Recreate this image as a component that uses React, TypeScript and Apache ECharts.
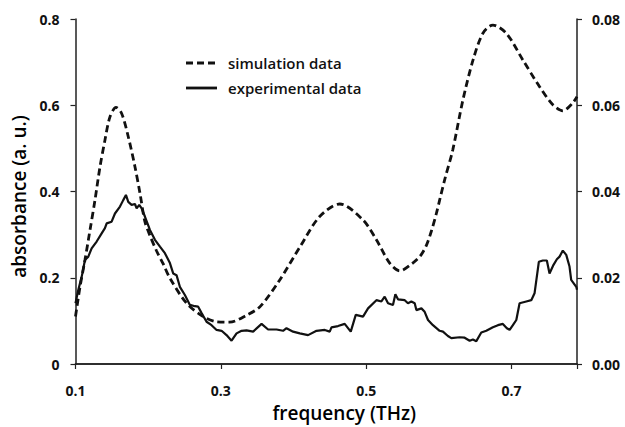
import React, { useEffect, useRef } from "react";
import * as echarts from "echarts";

const xTicks = ["0.1", "0.3", "0.5", "0.7"];
const leftTicks = ["0", "0.2", "0.4", "0.6", "0.8"];
const rightTicks = ["0.00", "0.02", "0.04", "0.06", "0.08"];
const legendNames = ["simulation data", "experimental data"];

const simX = [0.1, 0.1062, 0.113, 0.12, 0.1268, 0.1337, 0.1405, 0.1474, 0.1557, 0.1635, 0.1726, 0.1818, 0.1887, 0.1955, 0.2024, 0.2116, 0.2207, 0.2299, 0.2528, 0.2757, 0.294, 0.312, 0.3353, 0.354, 0.381, 0.409, 0.436, 0.4636, 0.4956, 0.514, 0.5323, 0.546, 0.564, 0.575, 0.5828, 0.59, 0.5965, 0.601, 0.6079, 0.619, 0.633, 0.647, 0.6606, 0.6743, 0.6927, 0.7155, 0.7385, 0.7568, 0.7705, 0.784, 0.79];
const simY = [0.11, 0.179, 0.241, 0.311, 0.38, 0.4575, 0.519, 0.573, 0.595, 0.581, 0.527, 0.4575, 0.396, 0.33, 0.298, 0.262, 0.232, 0.199, 0.141, 0.11, 0.098, 0.097, 0.113, 0.133, 0.195, 0.272, 0.342, 0.371, 0.334, 0.288, 0.234, 0.216, 0.234, 0.252, 0.275, 0.31, 0.349, 0.38, 0.427, 0.496, 0.612, 0.705, 0.767, 0.786, 0.767, 0.705, 0.643, 0.601, 0.587, 0.605, 0.62];

const expX = [0.1, 0.1039, 0.1085, 0.113, 0.1176, 0.1222, 0.1291, 0.136, 0.1405, 0.1429, 0.1497, 0.1543, 0.1612, 0.1657, 0.1694, 0.1726, 0.1772, 0.1818, 0.1841, 0.1877, 0.191, 0.1955, 0.2024, 0.2093, 0.2162, 0.223, 0.2299, 0.2344, 0.239, 0.2436, 0.2505, 0.2574, 0.2643, 0.2688, 0.2735, 0.2803, 0.2872, 0.2941, 0.301, 0.3078, 0.3147, 0.3216, 0.3285, 0.3353, 0.3444, 0.356, 0.365, 0.3766, 0.3856, 0.3903, 0.3994, 0.4086, 0.42, 0.4316, 0.443, 0.4498, 0.4522, 0.4612, 0.4704, 0.4787, 0.4856, 0.4956, 0.5025, 0.514, 0.5209, 0.5254, 0.53, 0.5368, 0.5401, 0.5437, 0.553, 0.5574, 0.5621, 0.5667, 0.569, 0.5759, 0.5804, 0.585, 0.5918, 0.601, 0.6056, 0.6124, 0.6171, 0.6285, 0.6354, 0.6423, 0.6468, 0.6515, 0.6583, 0.6652, 0.6743, 0.6812, 0.688, 0.6935, 0.6973, 0.7018, 0.7065, 0.711, 0.7202, 0.7271, 0.7316, 0.7375, 0.743, 0.7485, 0.7522, 0.7577, 0.7623, 0.766, 0.7705, 0.7752, 0.7797, 0.782, 0.789, 0.79];
const expY = [0.0141, 0.0172, 0.0202, 0.0241, 0.0249, 0.0268, 0.0284, 0.0303, 0.0315, 0.0326, 0.033, 0.0349, 0.0365, 0.038, 0.0392, 0.0376, 0.0369, 0.0371, 0.0361, 0.0369, 0.0361, 0.0342, 0.0311, 0.0288, 0.0272, 0.0257, 0.0234, 0.021, 0.0206, 0.0179, 0.016, 0.0137, 0.0134, 0.0133, 0.0118, 0.0098, 0.009, 0.0079, 0.0077, 0.0067, 0.0054, 0.0071, 0.0077, 0.0078, 0.0075, 0.0093, 0.008, 0.008, 0.0077, 0.0083, 0.0075, 0.0071, 0.0067, 0.0077, 0.0079, 0.0075, 0.0085, 0.0088, 0.0093, 0.0075, 0.0114, 0.011, 0.0129, 0.0148, 0.0145, 0.0156, 0.0141, 0.0137, 0.0162, 0.015, 0.0148, 0.0141, 0.0145, 0.0141, 0.0125, 0.0129, 0.0121, 0.0102, 0.009, 0.0077, 0.0075, 0.0065, 0.006, 0.0062, 0.0061, 0.0054, 0.0057, 0.0053, 0.0073, 0.0077, 0.0085, 0.009, 0.0093, 0.0083, 0.0079, 0.009, 0.0102, 0.0141, 0.0145, 0.0148, 0.0164, 0.0237, 0.024, 0.024, 0.021, 0.023, 0.0243, 0.0249, 0.0263, 0.0253, 0.0226, 0.0195, 0.0179, 0.0172];

const FONT = "'Open Sans', 'Noto Sans', sans-serif";
const INK = "#111";

export default function App() {
  const ref = useRef<HTMLDivElement>(null);
  useEffect(() => {
    if (!ref.current) return;
    const chart = echarts.init(ref.current, null, { renderer: "svg" });
    const labelStyle = { color: INK, fontFamily: FONT, fontSize: 14, fontWeight: "bold" };
    const axisLine = { show: true, lineStyle: { color: "#222", width: 1.5 } };
    const axisTick = { show: true, length: 5, lineStyle: { color: "#222", width: 1.2 } };
    chart.setOption({
      animation: false,
      backgroundColor: "#fff",
      grid: { left: 75.5, right: 48, top: 19, bottom: 63, containLabel: false, outerBoundsMode: "none" },
      graphic: [
        { type: "line", shape: { x1: 186, y1: 63, x2: 217, y2: 63 }, style: { stroke: INK, lineWidth: 2.8, lineDash: [7, 4] } },
        { type: "line", shape: { x1: 186, y1: 88, x2: 217, y2: 88 }, style: { stroke: INK, lineWidth: 2.8 } },
        { type: "text", x: 228, y: 63, style: { text: legendNames[0], fill: INK, font: `600 15px ${FONT}`, verticalAlign: "middle" } },
        { type: "text", x: 228, y: 88, style: { text: legendNames[1], fill: INK, font: `600 15px ${FONT}`, verticalAlign: "middle" } },
      ],
      xAxis: [
        {
          type: "value",
          min: 0.1,
          max: 0.79,
          interval: 0.2,
          name: "frequency (THz)",
          nameLocation: "middle",
          nameGap: 38,
          nameTextStyle: { color: "#000", fontFamily: FONT, fontSize: 19, fontWeight: 600, lineHeight: 22, padding: [0, 0, 0, 36] },
          axisLine,
          axisTick,
          axisLabel: { ...labelStyle, margin: 19, formatter: (v: number) => {
            const s = v.toFixed(1);
            return xTicks.includes(s) ? s : "";
          } },
          splitLine: { show: false },
        },
        {
          type: "value",
          position: "top",
          min: 0.1,
          max: 0.79,
          axisLine,
          axisTick: { show: false },
          axisLabel: { show: false },
          splitLine: { show: false },
        },
      ],
      yAxis: [
        {
          type: "value",
          min: 0,
          max: 0.8,
          interval: 0.2,
          name: "absorbance (a. u.)",
          nameLocation: "middle",
          nameRotate: 90,
          nameGap: 41,
          nameTextStyle: { color: "#000", fontFamily: FONT, fontSize: 19, fontWeight: 600, padding: [0, 10, 0, 0] },
          axisLine,
          axisTick,
          axisLabel: { ...labelStyle, margin: 16, formatter: (v: number) => leftTicks[Math.round(v / 0.2)] ?? "" },
          splitLine: { show: false },
        },
        {
          type: "value",
          min: 0,
          max: 0.08,
          interval: 0.02,
          position: "right",
          axisLine,
          axisTick,
          axisLabel: { ...labelStyle, margin: 15, formatter: (v: number) => rightTicks[Math.round(v / 0.02)] ?? "" },
          splitLine: { show: false },
        },
      ],
      series: [
        {
          name: legendNames[0],
          type: "line",
          yAxisIndex: 0,
          smooth: 0.3,
          symbol: "none",
          data: simX.map((x, i) => [x, simY[i]]),
          itemStyle: { color: INK },
          lineStyle: { color: INK, width: 2.8, type: [7, 4] },
        },
        {
          name: legendNames[1],
          type: "line",
          yAxisIndex: 1,
          symbol: "none",
          data: expX.map((x, i) => [x, expY[i]]),
          itemStyle: { color: INK },
          lineStyle: { color: INK, width: 2.2 },
        },
      ],
    });
    return () => chart.dispose();
  }, []);
  return <div ref={ref} style={{ position: "absolute", left: 0, top: 0, width: 625, height: 427 }} />;
}
